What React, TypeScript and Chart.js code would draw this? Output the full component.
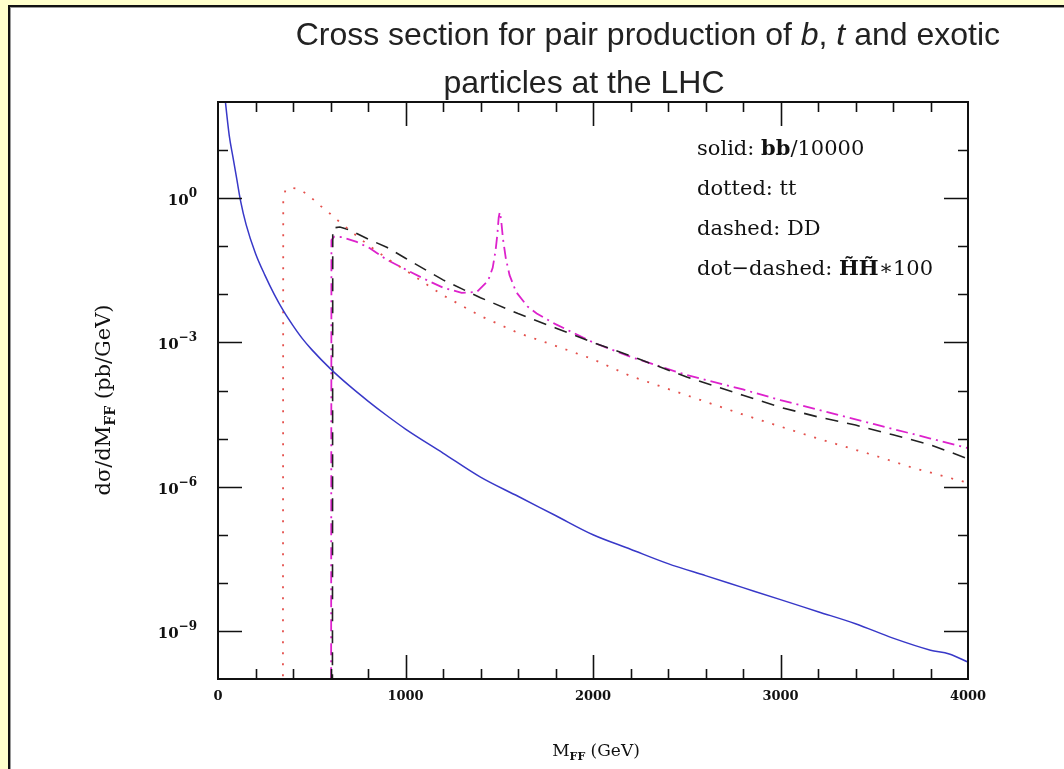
import React, { useEffect, useRef } from "react";
import { Chart, registerables } from "chart.js";

Chart.register(...registerables);

// ---------- data ----------
// solid: bb/10000
const BB_MASS = [30, 60, 80, 100, 120, 150, 200, 250, 300, 350, 400, 450, 500, 600, 700, 800, 900, 1000, 1200, 1400, 1600, 1800, 2000, 2200, 2400, 2600, 2800, 3000, 3200, 3400, 3600, 3800, 3900, 4000];
const BB_VALUES = [224, 20.0, 7.08, 2.51, 0.891, 0.282, 0.0708, 0.0251, 0.01, 4.47e-3, 2.24e-3, 1.2e-3, 7.08e-4, 2.82e-4, 1.26e-4, 6.03e-5, 3.02e-5, 1.58e-5, 5.01e-6, 1.58e-6, 6.31e-7, 2.51e-7, 1.0e-7, 5.01e-8, 2.51e-8, 1.41e-8, 7.94e-9, 4.47e-9, 2.51e-9, 1.41e-9, 7.08e-10, 3.98e-10, 3.31e-10, 2.24e-10];

// dotted: tt
const TT_MASS = [346, 348, 360, 385, 420, 450, 500, 550, 600, 650, 700, 800, 900, 1000, 1200, 1400, 1600, 1800, 2000, 2200, 2500, 2800, 3000, 3200, 3500, 3700, 4000];
const TT_VALUES = [1e-12, 1.0, 1.48, 1.66, 1.58, 1.41, 1.0, 0.676, 0.468, 0.316, 0.219, 0.107, 0.0562, 0.0316, 9.55e-3, 3.55e-3, 1.58e-3, 8.51e-4, 4.47e-4, 2.0e-4, 7.94e-5, 3.16e-5, 1.78e-5, 1.0e-5, 4.47e-6, 2.51e-6, 1.2e-6];

// dashed: DD
const DD_MASS = [610, 612, 650, 700, 800, 900, 1000, 1200, 1400, 1600, 1800, 2000, 2200, 2500, 2800, 3000, 3200, 3400, 3600, 3800, 4000];
const DD_VALUES = [1e-12, 0.24, 0.251, 0.219, 0.141, 0.0955, 0.0562, 0.02, 8.51e-3, 3.98e-3, 2.0e-3, 1.0e-3, 5.25e-4, 1.91e-4, 7.94e-5, 4.47e-5, 2.82e-5, 1.91e-5, 1.2e-5, 7.41e-6, 3.8e-6];

// dot-dashed: HH*100
const HH_MASS = [603, 605, 620, 660, 740, 810, 900, 1000, 1100, 1200, 1300, 1380, 1440, 1465, 1480, 1490, 1497, 1503, 1510, 1520, 1535, 1555, 1590, 1650, 1700, 1800, 2000, 2200, 2500, 2800, 3000, 3200, 3500, 3800, 4000];
const HH_VALUES = [1e-12, 0.135, 0.158, 0.155, 0.123, 0.0912, 0.0525, 0.0331, 0.0209, 0.0138, 0.0107, 0.0112, 0.0191, 0.0355, 0.0794, 0.178, 0.398, 0.513, 0.355, 0.141, 0.0562, 0.0251, 0.0112, 5.62e-3, 3.98e-3, 2.4e-3, 1.0e-3, 5.01e-4, 2.09e-4, 1.05e-4, 6.31e-5, 3.98e-5, 2.0e-5, 1.0e-5, 6.31e-6];

const X_MIN = 0;
const X_MAX = 4000;
const X_MAJOR_STEP = 1000;
const X_MINOR_STEP = 200;
const Y_MIN_EXP = -10;
const Y_MAX_EXP = 2;
const Y_LABELLED_EXPS = [0, -3, -6, -9];

const TITLE_LINE_1 = [
  { t: "Cross section for pair production of ", italic: false },
  { t: "b", italic: true },
  { t: ", ", italic: false },
  { t: "t", italic: true },
  { t: " and exotic", italic: false },
];
const TITLE_LINE_2 = "particles at the LHC";

const LEGEND_LINES = [
  [{ t: "solid: ", b: false }, { t: "bb", b: true }, { t: "/10000", b: false }],
  [{ t: "dotted: tt", b: false }],
  [{ t: "dashed: DD", b: false }],
  [{ t: "dot\u2212dashed: ", b: false }, { t: "H\u0303H\u0303", b: true }, { t: "\u2217100", b: false }],
];

const pts = (xs: number[], ys: number[]) => xs.map((x, i) => ({ x, y: ys[i] }));

const SERIF = "'DejaVu Serif', serif";
const SANS = "'Liberation Sans', Arial, sans-serif";

const decor = {
  id: "decor",
  beforeDraw(chart: any) {
    const { ctx, width, height } = chart;
    ctx.save();
    ctx.fillStyle = "#ffffcc";
    ctx.fillRect(0, 0, width, height);
    ctx.fillStyle = "#ffffff";
    ctx.fillRect(10, 7, width - 10, height - 7);
    ctx.fillStyle = "#111111";
    ctx.fillRect(8, 5, 2, height - 5);
    ctx.fillRect(8, 5, width - 8, 2);
    ctx.fillStyle = "#9a9a9a";
    ctx.fillRect(10, 7, 1, height - 7);
    ctx.fillRect(10, 7, width - 10, 1);
    ctx.restore();
  },
  afterDatasetsDraw(chart: any) {
    const { ctx, chartArea } = chart;
    const { left, right, top, bottom } = chartArea;
    const xs = chart.scales.x;
    const ys = chart.scales.y;
    ctx.save();
    ctx.strokeStyle = "#111";
    ctx.lineWidth = 2;
    ctx.strokeRect(left, top, right - left, bottom - top);
    ctx.lineWidth = 1.6;
    ctx.beginPath();
    for (let e = Y_MIN_EXP + 1; e < Y_MAX_EXP; e++) {
      const py = Math.round(ys.getPixelForValue(Math.pow(10, e))) + 0.5;
      const len = e % 3 === 0 ? 24 : 10;
      ctx.moveTo(left, py);
      ctx.lineTo(left + len, py);
      ctx.moveTo(right, py);
      ctx.lineTo(right - len, py);
    }
    for (let v = X_MIN + X_MINOR_STEP; v < X_MAX; v += X_MINOR_STEP) {
      const px = Math.round(xs.getPixelForValue(v)) + 0.5;
      const len = v % X_MAJOR_STEP === 0 ? 24 : 10;
      ctx.moveTo(px, bottom);
      ctx.lineTo(px, bottom - len);
      ctx.moveTo(px, top);
      ctx.lineTo(px, top + len);
    }
    ctx.stroke();

    // y tick labels: 10 with raised exponent
    ctx.fillStyle = "#111";
    ctx.textBaseline = "alphabetic";
    for (const e of Y_LABELLED_EXPS) {
      const py = ys.getPixelForValue(Math.pow(10, e));
      const ex = e === 0 ? "0" : "\u2212" + String(-e);
      ctx.font = `bold 12px ${SERIF}`;
      const we = ctx.measureText(ex).width;
      ctx.textAlign = "left";
      const xr = left - 21;
      ctx.fillText(ex, xr - we, py - 1);
      ctx.font = `bold 15px ${SERIF}`;
      ctx.textAlign = "right";
      ctx.fillText("10", xr - we, py + 7);
    }

    // title
    ctx.fillStyle = "#222";
    ctx.textAlign = "left";
    const tsize = 32;
    let w = 0;
    for (const p of TITLE_LINE_1) {
      ctx.font = `${p.italic ? "italic " : ""}${tsize}px ${SANS}`;
      w += ctx.measureText(p.t).width;
    }
    let cx = 1000 - w;
    for (const p of TITLE_LINE_1) {
      ctx.font = `${p.italic ? "italic " : ""}${tsize}px ${SANS}`;
      ctx.fillText(p.t, cx, 45);
      cx += ctx.measureText(p.t).width;
    }
    ctx.font = `${tsize}px ${SANS}`;
    ctx.textAlign = "center";
    ctx.fillText(TITLE_LINE_2, 584, 93);

    // legend text
    ctx.textAlign = "left";
    ctx.fillStyle = "#111";
    const ly = [155, 195, 235, 275];
    LEGEND_LINES.forEach((line, i) => {
      let x = 697;
      for (const p of line) {
        ctx.font = `${p.b ? "bold " : ""}21px ${SERIF}`;
        ctx.fillText(p.t, x, ly[i]);
        x += ctx.measureText(p.t).width;
      }
    });

    // axis titles
    const drawSubLabel = (main: string, sub: string, rest: string, x0: number, y0: number, size: number) => {
      const ss = Math.round(size * 0.65);
      ctx.font = `${size}px ${SERIF}`;
      const w1 = ctx.measureText(main).width;
      ctx.font = `bold ${ss}px ${SERIF}`;
      const w2 = ctx.measureText(sub).width;
      ctx.font = `${size}px ${SERIF}`;
      const w3 = ctx.measureText(rest).width;
      let x = x0 - (w1 + w2 + w3) / 2;
      ctx.font = `${size}px ${SERIF}`;
      ctx.fillText(main, x, y0);
      x += w1;
      ctx.font = `bold ${ss}px ${SERIF}`;
      ctx.fillText(sub, x, y0 + size * 0.25);
      x += w2;
      ctx.font = `${size}px ${SERIF}`;
      ctx.fillText(rest, x, y0);
    };
    ctx.textAlign = "left";
    drawSubLabel("M", "FF", " (GeV)", 596, 756, 17);
    ctx.save();
    ctx.translate(110, 400);
    ctx.rotate(-Math.PI / 2);
    drawSubLabel("d\u03C3/dM", "FF", " (pb/GeV)", 0, 0, 21);
    ctx.restore();
    ctx.restore();
  },
};

export default function App() {
  const ref = useRef<HTMLCanvasElement | null>(null);
  useEffect(() => {
    if (!ref.current) return;
    const chart = new Chart(ref.current, {
      type: "line",
      data: {
        datasets: [
          { label: "bb/10000", data: pts(BB_MASS, BB_VALUES), borderColor: "#3838c8", borderWidth: 1.5, pointRadius: 0, cubicInterpolationMode: "monotone" },
          { label: "tt", data: pts(TT_MASS, TT_VALUES), borderColor: "#e4504c", borderWidth: 1.8, borderDash: [2, 9], pointRadius: 0, tension: 0 },
          { label: "DD", data: pts(DD_MASS, DD_VALUES), borderColor: "#222222", borderWidth: 1.6, borderDash: [13, 9], pointRadius: 0, tension: 0 },
          { label: "HH*100", data: pts(HH_MASS, HH_VALUES), borderColor: "#dd22cc", borderWidth: 1.8, borderDash: [12, 5, 2, 5], pointRadius: 0, tension: 0 },
        ],
      },
      options: {
        responsive: false,
        devicePixelRatio: 1,
        animation: false,
        layout: { padding: { left: 0, top: 102, right: 96, bottom: 0 } },
        plugins: { legend: { display: false }, title: { display: false }, tooltip: { enabled: false } },
        scales: {
          x: {
            type: "linear",
            min: X_MIN,
            max: X_MAX,
            grid: { display: false, drawTicks: false },
            border: { display: false },
            ticks: {
              stepSize: X_MAJOR_STEP,
              autoSkip: false,
              maxRotation: 0,
              padding: 10,
              color: "#111",
              font: { family: "'DejaVu Serif', serif", weight: "bold", size: 13 },
              callback: (v: any) => String(v),
            },
            afterFit: (s: any) => { s.height = 90; },
          },
          y: {
            type: "logarithmic",
            min: Math.pow(10, Y_MIN_EXP),
            max: Math.pow(10, Y_MAX_EXP),
            grid: { display: false, drawTicks: false },
            border: { display: false },
            afterBuildTicks: (s: any) => {
              const t = [];
              for (let e = Y_MIN_EXP; e <= Y_MAX_EXP; e++) t.push({ value: Math.pow(10, e) });
              s.ticks = t;
            },
            ticks: { display: false },
            afterFit: (s: any) => { s.width = 218; },
          },
        },
      },
      plugins: [decor],
    } as any);
    return () => chart.destroy();
  }, []);
  return <canvas ref={ref} width={1064} height={769} style={{ position: "fixed", left: 0, top: 0, display: "block" }} />;
}
